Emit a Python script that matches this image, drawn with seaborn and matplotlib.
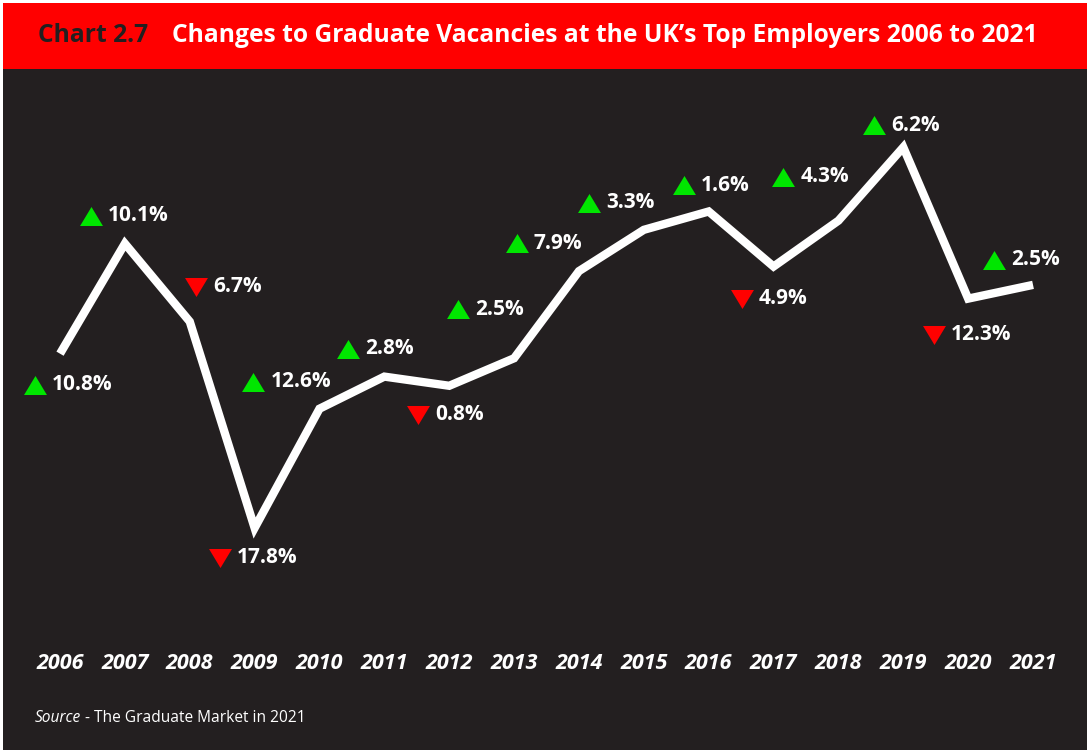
import matplotlib
matplotlib.use("Agg")
import matplotlib.pyplot as plt
import matplotlib.patches as mpatches
from matplotlib.transforms import offset_copy
import seaborn as sns

# data (graduate vacancies, estimated)
years = [2006, 2007, 2008, 2009, 2010, 2011, 2012, 2013,
         2014, 2015, 2016, 2017, 2018, 2019, 2020, 2021]
vacancies = [18100, 20500, 18800, 14300, 16900, 17600, 17400, 18000,
             19900, 20800, 21200, 20000, 21000, 22600, 19300, 19600]
change_labels = ['10.8%', '10.1%', '6.7%', '17.8%', '12.6%', '2.8%', '0.8%', '2.5%',
                 '7.9%', '3.3%', '1.6%', '4.9%', '4.3%', '6.2%', '12.3%', '2.5%']
change_up = [True, True, False, False, True, True, False, True,
             True, True, True, False, True, True, False, True]

# label placement relative to each point (pixels)
label_dx = [-25, -34, 6, -35, -66, -36, -31, -56, -62, -55, -25, -32, -55, -29, -34, -39]
label_dy = [-31, 28, 35, -30, 27, 28, -29, 49, 28, 27, 26, -32, 44, 22, -36, 25]

DARK = '#231f20'
RED = '#ff0000'
GREEN = '#00e600'

# slightly flattened triangles
TRI_UP = [(-1, -0.83), (1, -0.83), (0, 0.83), (-1, -0.83)]
TRI_DOWN = [(-1, 0.83), (1, 0.83), (0, -0.83), (-1, 0.83)]

sns.set_style('dark')
plt.rcParams['font.family'] = ['Open Sans', 'DejaVu Sans']

W, H = 1087, 750
fig = plt.figure(figsize=(W / 100, H / 100), dpi=100, facecolor='white')

# background panels
fig.add_artist(mpatches.Rectangle((3 / W, 0), 1 - 3 / W, (H - 69) / H, zorder=-10,
                                  transform=fig.transFigure, color=DARK, lw=0))
fig.add_artist(mpatches.Rectangle((3 / W, (H - 69) / H), 1 - 3 / W, 66 / H, zorder=-10,
                                  transform=fig.transFigure, color=RED, lw=0))

ax = fig.add_axes([3 / W, 110 / H, 1084 / W, 571 / H])
ax.set_facecolor('none')
sns.lineplot(x=years, y=vacancies, ax=ax, color='white', lw=6,
             solid_joinstyle='miter', solid_capstyle='butt')
ax.set_xlim(2005.121, 2021.832)
ax.set_ylim(11858, 24306)
ax.set_xticks([])
ax.set_yticks([])
ax.set_xlabel('')
ax.set_ylabel('')
ax.grid(False)
for s in ax.spines.values():
    s.set_visible(False)

for yr, v, lab, up, dx, dy in zip(years, vacancies, change_labels, change_up, label_dx, label_dy):
    tr = offset_copy(ax.transData, fig=fig, x=dx, y=dy, units='dots')
    ax.plot([yr], [v], marker=TRI_UP if up else TRI_DOWN, ms=16.5, mew=0,
            color=GREEN if up else RED, transform=tr, clip_on=False)
    ax.annotate(lab, xy=(yr, v), xytext=(dx + 17, dy), textcoords='offset pixels',
                color='white', fontsize=15, fontweight='bold', ha='left', va='center')

# year labels
for yr in years:
    ax.text(yr, -0.0403, str(yr), transform=ax.get_xaxis_transform(), ha='center', va='center',
            color='white', fontsize=15.5, fontweight='bold', style='italic')

# title
fig.text(38 / W, 1 - 36 / H, 'Chart 2.7', color=DARK, fontsize=17.7, fontweight='bold', va='center')
fig.text(172 / W, 1 - 36 / H, 'Changes to Graduate Vacancies at the UK\u2019s Top Employers 2006 to 2021',
         color='white', fontsize=17.7, fontweight='bold', va='center')

# source
fig.text(35 / W, 1 - 718 / H, 'Source', color='white', fontsize=11.2, style='italic', va='center')
fig.text(0, 0, ' - The Graduate Market in 2021', color='white', fontsize=11.2, va='center',
         transform=offset_copy(fig.transFigure, fig=fig, x=35 + 46, y=H - 718, units='dots'))

fig.savefig('out.png', dpi=100, facecolor='white')
